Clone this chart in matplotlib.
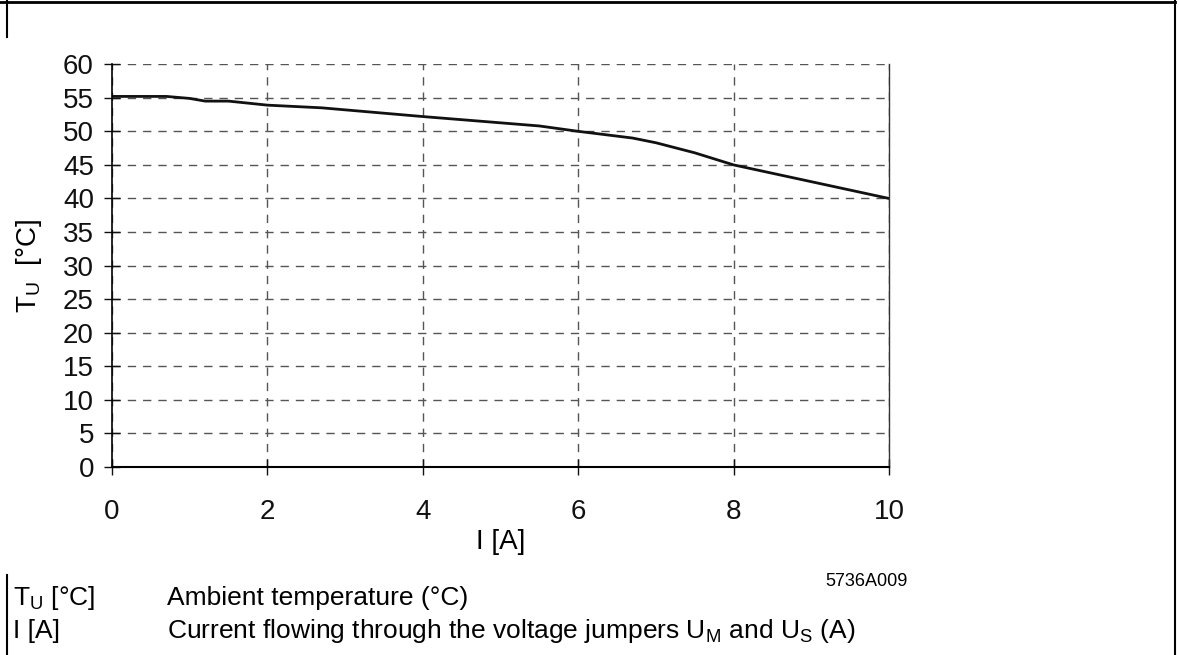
import matplotlib.pyplot as plt
from matplotlib.lines import Line2D

plt.rcParams['font.family'] = ['Liberation Sans', 'DejaVu Sans']

strom = [0, 0.7, 1.0, 1.2, 1.5, 2.0, 2.7, 4.0, 5.5, 6.0, 6.7, 7.0, 7.5, 8.0, 9.0, 10.0]
temp = [55.2, 55.2, 54.9, 54.5, 54.5, 53.9, 53.5, 52.2, 50.8, 50.0, 49.0, 48.3, 46.8, 45.0, 42.5, 40.0]

xticks = [0, 2, 4, 6, 8, 10]
yticks = list(range(0, 61, 5))

fig = plt.figure(figsize=(11.79, 6.55), dpi=100)
ax = fig.add_axes([0.095, 0.287, 0.659, 0.615])

ax.plot(strom, temp, color='#111111', lw=2)
ax.set_xlim(0, 10)
ax.set_ylim(0, 60)
ax.set_xticks(xticks)
ax.set_yticks(yticks)
ax.grid(True, ls=(0, (6, 5)), color='#555555', lw=1)
ax.spines['top'].set_visible(False)
ax.spines['right'].set_color('#333333')
ax.spines['right'].set_linewidth(1)
ax.spines['left'].set_linewidth(1.2)
ax.spines['bottom'].set_linewidth(1.5)
ax.tick_params(direction='inout', length=12, width=1, labelsize=20, colors='#111111')
ax.tick_params(axis='x', pad=17)
ax.tick_params(axis='y', pad=7)
ax.set_xlabel('I [A]', fontsize=20, labelpad=3)
ax.set_ylabel('T$_\\mathregular{U}$  [°C]', fontsize=20)
ax.yaxis.set_label_coords(-0.087, 0.5)

fig.text(908 / 1179, 1 - 581 / 655, '5736A009', fontsize=13, ha='right', va='center')

# Legende unten
fig.text(13 / 1179, 1 - 598 / 655, 'T$_\\mathregular{U}$ [°C]', fontsize=19, va='center')
fig.text(167 / 1179, 1 - 598 / 655, 'Ambient temperature (°C)', fontsize=19, va='center')
fig.text(13 / 1179, 1 - 631 / 655, 'I [A]', fontsize=19, va='center')
fig.text(167 / 1179, 1 - 631 / 655,
         'Current flowing through the voltage jumpers U$_\\mathregular{M}$ and U$_\\mathregular{S}$ (A)',
         fontsize=19, va='center')

# Rahmen
rahmen = [
    ([0, 1175 / 1179], [1 - 1.5 / 655, 1 - 1.5 / 655]),
    ([7 / 1179, 7 / 1179], [1, 1 - 37 / 655]),
    ([7 / 1179, 7 / 1179], [1 - 575 / 655, 0]),
    ([1175 / 1179, 1175 / 1179], [1, 0]),
]
for xs, ys in rahmen:
    fig.add_artist(Line2D(xs, ys, color='black', lw=2 if ys[0] == ys[1] else 1.5,
                          transform=fig.transFigure))

fig.savefig('out.png', dpi=100)
